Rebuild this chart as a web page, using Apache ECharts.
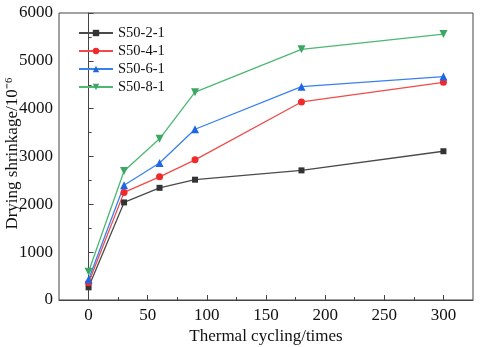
<!DOCTYPE html>
<html>
<head>
<meta charset="utf-8">
<title>Drying shrinkage vs thermal cycling</title>
<style>
  html, body { margin: 0; padding: 0; background: #fff; }
  #chart { width: 480px; height: 347px; }
</style>
</head>
<body>
<div id="chart"></div>
<script src="https://cdn.jsdelivr.net/npm/echarts@6/dist/echarts.min.js"></script>
<script>
    // thermal cycles (x) and shrinkage values (10^-6)
    var cycles = [0, 30, 60, 90, 180, 300];
    var s2 = [265, 2040, 2345, 2515, 2710, 3110];
    var s4 = [360, 2250, 2575, 2930, 4140, 4550];
    var s6 = [430, 2400, 2865, 3570, 4460, 4670];
    var s8 = [590, 2695, 3370, 4345, 5240, 5560];
    var names = ['S50-2-1', 'S50-4-1', 'S50-6-1', 'S50-8-1'];
    var xMajor = [0, 50, 100, 150, 200, 250, 300];
    var xMinor = [25, 75, 125, 175, 225, 275];

    var serif = '"Liberation Serif", "Times New Roman", serif';
    var axisColor = '#444';

    function pairs(vals) {
        var out = [];
        for (var i = 0; i < cycles.length; i++) {
            out.push([cycles[i], vals[i]]);
        }
        return out;
    }

    function line(name, vals, color, markerColor, symbol, size) {
        return {
            name: name,
            type: 'line',
            data: pairs(vals),
            symbol: symbol,
            symbolSize: size,
            lineStyle: {color: color, width: 1.3},
            itemStyle: {color: markerColor},
            emphasis: {disabled: true}
        };
    }

    var chart = echarts.init(document.getElementById('chart'));
    chart.setOption({
        animation: false,
        backgroundColor: '#fff',
        textStyle: {fontFamily: serif},
        grid: {
            left: 59, top: 13, right: 7, bottom: 47,
            outerBoundsMode: 'none',
            containLabel: false,
            show: true, borderColor: axisColor, borderWidth: 1
        },
        legend: {
            orient: 'vertical',
            left: 78,
            top: 25,
            padding: 0,
            itemWidth: 34,
            itemHeight: 8,
            itemGap: 2,
            textStyle: {fontFamily: serif, fontSize: 14.5, color: '#111', lineHeight: 16},
            data: names
        },
        xAxis: [{
            type: 'value',
            min: -25,
            max: 325,
            interval: 25,
            name: 'Thermal cycling/times',
            nameLocation: 'middle',
            nameGap: 28,
            nameMoveOverlap: false,
            nameTextStyle: {fontFamily: serif, fontSize: 17, color: '#111'},
            axisLine: {onZero: false, lineStyle: {color: axisColor}},
            axisTick: {inside: true, length: 5, customValues: xMajor, lineStyle: {color: axisColor}},
            axisLabel: {
                customValues: xMajor,
                margin: 7,
                fontFamily: serif, fontSize: 17, color: '#111'
            },
            splitLine: {show: false}
        }, {
            type: 'value',
            min: -25,
            max: 325,
            interval: 25,
            position: 'bottom',
            axisLine: {show: false},
            axisTick: {inside: true, length: 3, customValues: xMinor, lineStyle: {color: axisColor}},
            axisLabel: {show: false},
            splitLine: {show: false}
        }],
        yAxis: {
            type: 'value',
            min: 0,
            max: 6000,
            interval: 1000,
            name: 'Drying shrinkage/10\u207B\u2076',
            nameLocation: 'middle',
            nameGap: 38,
            nameMoveOverlap: false,
            nameTextStyle: {fontFamily: serif, fontSize: 17, color: '#111', padding: [0, 0, 0, 6]},
            axisLine: {show: true, lineStyle: {color: axisColor}},
            axisTick: {show: true, inside: true, length: 5, lineStyle: {color: axisColor}},
            minorTick: {show: true, splitNumber: 2, length: 3, lineStyle: {color: axisColor}},
            axisLabel: {
                margin: 6, fontFamily: serif, fontSize: 17, color: '#111',
                formatter: function (v) { return String(v); }
            },
            splitLine: {show: false}
        },
        series: [
            line(names[0], s2, '#4a4a4a', '#333333', 'rect', 6),
            line(names[1], s4, '#f24a4a', '#f02a2a', 'circle', 7),
            line(names[2], s6, '#3a80f0', '#1e66e6', 'triangle', 8),
            line(names[3], s8, '#4cb872', '#3aa862', 'path://M0,0 L10,0 L5,9 Z', 8)
        ]
    });
</script>
</body>
</html>
